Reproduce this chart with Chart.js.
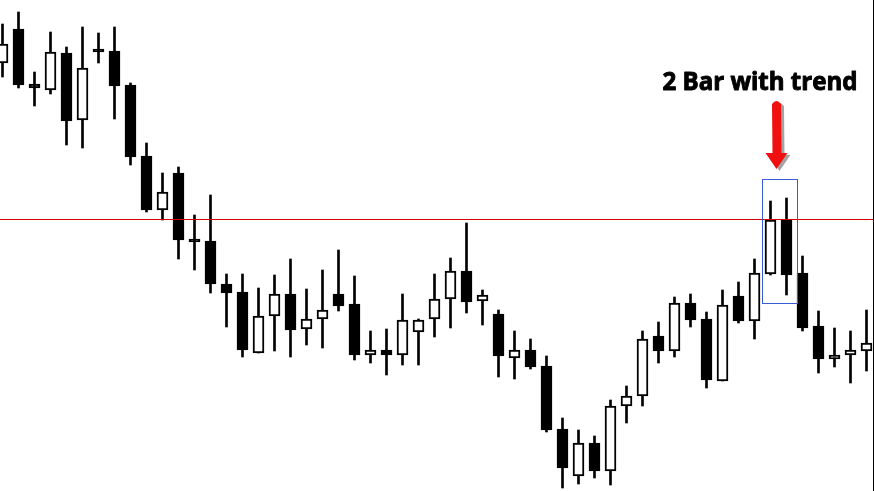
<!DOCTYPE html>
<html><head><meta charset="utf-8">
<script src="https://cdn.jsdelivr.net/npm/chart.js@4"></script>
<style>html,body{margin:0;padding:0;background:#fff;overflow:hidden}canvas{display:block}</style>
</head><body>
<canvas id="c" width="874" height="491"></canvas>
<script>
// Bar numbers (categories)
const bars = ["1","2","3","4","5","6","7","8","9","10","11","12","13","14","15","16","17","18","19","20",
  "21","22","23","24","25","26","27","28","29","30","31","32","33","34","35","36","37","38","39","40",
  "41","42","43","44","45","46","47","48","49","50","51","52","53","54","55"];

const open = [1.1137,1.1171,1.1116,1.1110,1.1147,1.1080,1.1151,1.1149,1.1115,1.1044,
  1.0990,1.1027,1.0961,1.0959,1.0916,1.0908,1.0847,1.0884,1.0906,1.0871,
  1.0881,1.0906,1.0896,1.0845,1.0850,1.0845,1.0868,1.0881,1.0901,1.0929,
  1.0899,1.0886,1.0842,1.0850,1.0834,1.0771,1.0724,1.0757,1.0729,1.0794,
  1.0804,1.0864,1.0849,1.0897,1.0881,1.0819,1.0904,1.0879,1.0926,1.0980,
  1.0927,1.0874,1.0841,1.0845,1.0849];

const high = [1.1176,1.1188,1.1128,1.1168,1.1153,1.1173,1.1167,1.1173,1.1117,1.1057,
  1.1027,1.1033,1.0985,1.1005,1.0926,1.0926,1.0912,1.0925,1.0941,1.0911,
  1.0930,1.0950,1.0924,1.0869,1.0871,1.0906,1.0881,1.0926,1.0942,1.0977,
  1.0910,1.0890,1.0869,1.0861,1.0844,1.0782,1.0770,1.0764,1.0800,1.0814,
  1.0869,1.0878,1.0903,1.0906,1.0888,1.0910,1.0918,1.0941,1.0999,1.1002,
  1.0944,1.0889,1.0872,1.0869,1.0890];

const low = [1.1123,1.1112,1.1094,1.1106,1.1055,1.1052,1.1137,1.1081,1.1035,1.0988,
  1.0980,1.0941,1.0930,1.0907,1.0873,1.0843,1.0847,1.0849,1.0843,1.0855,
  1.0852,1.0889,1.0840,1.0837,1.0825,1.0835,1.0835,1.0863,1.0872,1.0887,
  1.0875,1.0823,1.0821,1.0831,1.0768,1.0712,1.0716,1.0722,1.0715,1.0777,
  1.0794,1.0837,1.0843,1.0873,1.0812,1.0819,1.0877,1.0861,1.0925,1.0905,
  1.0869,1.0827,1.0833,1.0817,1.0829];

const close = [1.1156,1.1115,1.1112,1.1148,1.1079,1.1132,1.1148,1.1114,1.1043,1.0990,
  1.1008,1.0960,1.0958,1.0916,1.0907,1.0850,1.0884,1.0906,1.0870,1.0881,
  1.0890,1.0894,1.0845,1.0850,1.0845,1.0880,1.0880,1.0901,1.0929,1.0898,
  1.0905,1.0844,1.0850,1.0833,1.0770,1.0732,1.0757,1.0729,1.0794,1.0804,
  1.0861,1.0849,1.0897,1.0880,1.0820,1.0895,1.0879,1.0927,1.0980,1.0925,
  1.0872,1.0841,1.0845,1.0850,1.0857];

// Annotation values
const levelPrice = 1.0981;          // horizontal line
const boxBars = [48, 49];           // zero-based bar indices inside the blue box
const boxHigh = 1.1021, boxLow = 1.0897;
const arrowTop = 1.1100, arrowTip = 1.1031;
const labelText = "2 Bar with trend";
const labelPrice = 1.1110;

const priceMin = 1.0709, priceMax = 1.1200;

const wicks = low.map((l, i) => [l, high[i]]);
const bodies = open.map((o, i) => [o, close[i]]);
const bodyFill = open.map((o, i) => close[i] >= o ? '#ffffff' : '#000000');

const annot = {
  id: 'annot',
  afterDatasetsDraw(chart) {
    const ctx = chart.ctx, xs = chart.scales.x, ys = chart.scales.y;
    const W = chart.width, H = chart.height;
    ctx.save();
    // horizontal level line
    const ly = Math.round(ys.getPixelForValue(levelPrice)) + 0.5;
    ctx.strokeStyle = '#d40000'; ctx.lineWidth = 1;
    ctx.beginPath(); ctx.moveTo(0, ly); ctx.lineTo(W, ly); ctx.stroke();
    // right border line
    ctx.strokeStyle = '#000'; ctx.beginPath(); ctx.moveTo(W - 0.5, 0); ctx.lineTo(W - 0.5, H); ctx.stroke();
    // blue box
    const bx0 = Math.round(xs.getPixelForValue(boxBars[0]) - 8.5) + 0.5;
    const bx1 = Math.round(xs.getPixelForValue(boxBars[1]) + 10.5) + 0.5;
    const by0 = Math.round(ys.getPixelForValue(boxHigh)) + 0.5;
    const by1 = Math.round(ys.getPixelForValue(boxLow)) + 0.5;
    ctx.strokeStyle = '#3a5bd9'; ctx.lineWidth = 1;
    ctx.strokeRect(bx0, by0, bx1 - bx0, by1 - by0);
    // arrow
    const cx = (xs.getPixelForValue(boxBars[0]) + xs.getPixelForValue(boxBars[1])) / 2 - 2;
    const ay0 = ys.getPixelForValue(arrowTop), ay1 = ys.getPixelForValue(arrowTip);
    const headY = ay1 - 16;
    function arrowPath(dx, dy) {
      ctx.beginPath();
      ctx.moveTo(cx - 4.5 + dx, ay0 + 4 + dy);
      ctx.quadraticCurveTo(cx + dx, ay0 - 2 + dy, cx + 4.5 + dx, ay0 + 4 + dy);
      ctx.lineTo(cx + 5 + dx, headY + dy);
      ctx.lineTo(cx + 11 + dx, headY + dy);
      ctx.lineTo(cx + dx, ay1 + dy);
      ctx.lineTo(cx - 11 + dx, headY + dy);
      ctx.lineTo(cx - 4 + dx, headY + dy);
      ctx.closePath();
    }
    ctx.fillStyle = 'rgba(90,90,90,0.55)'; arrowPath(3, 2); ctx.fill();
    ctx.fillStyle = '#f01010'; arrowPath(0, 0); ctx.fill();
    // label
    ctx.fillStyle = '#000'; ctx.strokeStyle = '#000'; ctx.lineWidth = 0.9; ctx.lineJoin = 'round';
    let fs = 24;
    ctx.font = 'bold ' + fs + 'px "Open Sans", "DejaVu Sans", sans-serif';
    const m = ctx.measureText(labelText).width;
    fs = fs * 195 / m;
    ctx.font = 'bold ' + fs.toFixed(2) + 'px "Open Sans", "DejaVu Sans", sans-serif';
    ctx.textAlign = 'center'; ctx.textBaseline = 'alphabetic';
    const ty = ys.getPixelForValue(labelPrice);
    ctx.fillText(labelText, 760, ty);
    ctx.strokeText(labelText, 760, ty);
    ctx.restore();
  }
};

new Chart(document.getElementById('c'), {
  type: 'bar',
  data: {
    labels: bars,
    datasets: [
      { label: 'body', data: bodies, backgroundColor: bodyFill, borderColor: '#000', borderWidth: 2,
        borderSkipped: false, barThickness: 11, grouped: false, clip: false, order: 0 },
      { label: 'wick', data: wicks, backgroundColor: '#000', borderWidth: 0,
        barThickness: 2, grouped: false, clip: false, order: 1 }
    ]
  },
  options: {
    responsive: false, animation: false,
    layout: { padding: { left: 2.5, right: 7.5, top: 0, bottom: 0 } },
    plugins: { legend: { display: false }, tooltip: { enabled: false } },
    scales: {
      x: { type: 'category', offset: false, display: false },
      y: { min: priceMin, max: priceMax, display: false }
    }
  },
  plugins: [annot]
});
</script>
</body></html>
